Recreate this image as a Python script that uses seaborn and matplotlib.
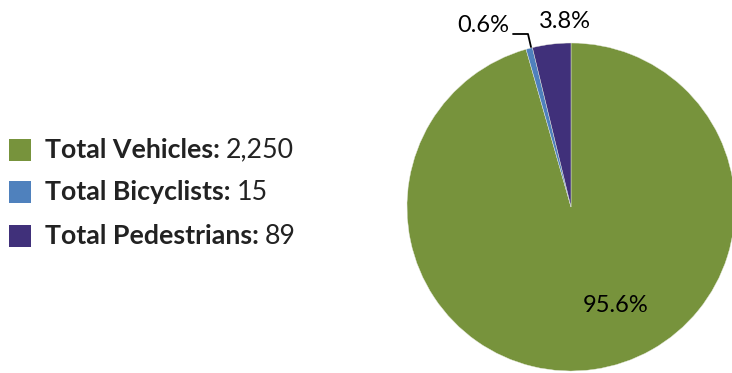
import matplotlib
matplotlib.use("Agg")
import matplotlib.pyplot as plt
from matplotlib.patches import Rectangle
import seaborn as sns

sns.set_theme(style="white")
plt.rcParams['font.family'] = ['Lato', 'DejaVu Sans']

categories = ["Total Vehicles", "Total Bicyclists", "Total Pedestrians"]
counts = [2250, 15, 89]
value_labels = ["2,250", "15", "89"]
colors = ["#77933C", "#4F81BD", "#40307A"]
pct_labels = ["95.6%", "0.6%", "3.8%"]

W, H = 732, 373
fig = plt.figure(figsize=(W / 100, H / 100), dpi=100)
fig.patch.set_facecolor("white")

# pie axes: center (571, 207) px, radius 164 px
cx, cy, r = 571, 207, 164
ax = fig.add_axes([(cx - r) / W, (H - cy - r) / H, 2 * r / W, 2 * r / H])
wedges, _ = ax.pie(counts, colors=colors, startangle=90, counterclock=False,
                   radius=1.0, wedgeprops=dict(edgecolor="#e8eadf", linewidth=0.3))
ax.set_xlim(-1, 1)
ax.set_ylim(-1, 1)
ax.set_aspect("equal")
ax.axis("off")

def px(x, y):
    return ((x - cx) / r, (cy - y) / r)

fs_pct = 17
ax.text(*px(616, 306), pct_labels[0], ha="center", va="center", fontsize=fs_pct, color="black", clip_on=False)
ax.text(*px(483, 26), pct_labels[1], ha="center", va="center", fontsize=fs_pct, color="black", clip_on=False)
ax.text(*px(565, 21), pct_labels[2], ha="center", va="center", fontsize=fs_pct, color="black", clip_on=False)
pts = [px(513, 34), px(528, 34), px(531, 47)]
ax.plot([p[0] for p in pts], [p[1] for p in pts], color="black", linewidth=1.3, clip_on=False)

# legend
rows_y = [150, 192, 236]
fs_leg = 19.3
fig.canvas.draw()
renderer = fig.canvas.get_renderer()
for cat, val, col, yc in zip(categories, value_labels, colors, rows_y):
    sq = 22
    fig.patches.append(Rectangle((9 / W, (H - yc - sq / 2) / H), sq / W, sq / H,
                                 transform=fig.transFigure, facecolor=col, edgecolor="none"))
    t = fig.text(45 / W, (H - yc) / H, cat + ":", fontsize=fs_leg, fontweight="bold",
                 color="#222222", ha="left", va="center")
    bb = t.get_window_extent(renderer=renderer)
    fig.text((bb.x1 + 6) / W, (H - yc) / H, val, fontsize=fs_leg, color="#222222",
             ha="left", va="center")

fig.savefig("out.png", dpi=100, facecolor="white")
